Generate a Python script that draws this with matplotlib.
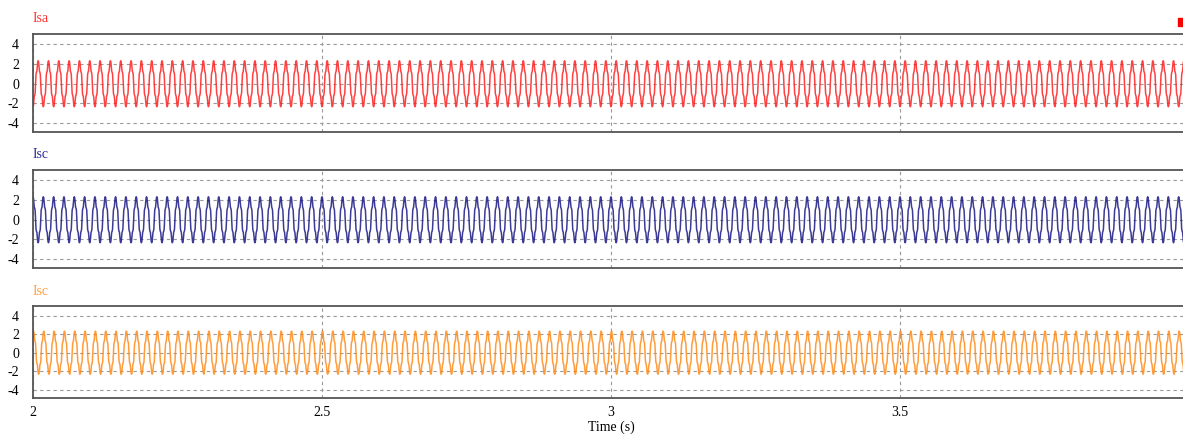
import matplotlib.pyplot as plt
import numpy as np

plt.rcParams['font.family'] = ['Liberation Serif', 'DejaVu Serif']
plt.rcParams['axes.unicode_minus'] = False

# phase currents, 2 s .. 4 s window
t_start, t_end = 2.0, 4.0
freq = 56.0                      # apparent fundamental (Hz)
amp = [2.2, 2.2, 2.2]            # fundamental peak (A)
phase0 = [-np.pi / 2, np.pi / 2, np.pi / 2 - 0.3]   # phase at t = 2 s
h5 = [0.12, 0.12, 0.12]          # 5th harmonic share
h7 = [0.06, 0.06, 0.06]          # 7th harmonic share
names = ['Isa', 'Isc', 'Isc']
line_colors = ['#ff2020', '#1a1a85', '#ff8c1a']
title_colors = ['#ff3333', '#2b2b91', '#ffa040']

yticks = [-4, -2, 0, 2, 4]
xticks = [2, 2.5, 3, 3.5, 4]
xticklabels = ['2', '2.5', '3', '3.5', '4']

t = np.arange(t_start, t_end, 1.0 / (freq * 24))

W, H = 1183, 436
fig = plt.figure(figsize=(W / 100, H / 100), dpi=100)

# panel boxes in pixels: (top, bottom)
boxes = [(34, 132), (170, 268), (306, 398)]
title_y = [18, 155, 291]
x0, x4 = 33, 1189

for i in range(3):
    top, bot = boxes[i]
    ax = fig.add_axes([x0 / W, 1 - bot / H, (x4 - x0) / W, (bot - top) / H])
    th = 2 * np.pi * freq * (t - t_start) + phase0[i]
    y = amp[i] * (np.sin(th) + h5[i] * np.sin(5 * th) + h7[i] * np.sin(7 * th))
    ax.plot(t, y, color=line_colors[i], lw=1.1, alpha=0.85)

    ax.set_xlim(t_start, t_end)
    ax.set_ylim(-4.9, 5.05)
    ax.set_yticks(yticks)
    ax.set_yticklabels([str(v) for v in yticks], fontsize=10)
    ax.set_xticks(xticks)
    if i == 2:
        ax.set_xticklabels(xticklabels, fontsize=10)
        ax.set_xlabel('Time (s)', fontsize=10, labelpad=1)
    else:
        ax.set_xticklabels([])
    ax.tick_params(axis='y', length=0, pad=10)
    ax.tick_params(axis='x', length=0, pad=6)
    ax.grid(True, ls=(0, (3, 3)), color='#999999', lw=0.8)
    for s in ax.spines.values():
        s.set_color('#555555')
        s.set_linewidth(1.3)

    fig.text(x0 / W, 1 - title_y[i] / H, names[i], color=title_colors[i],
             fontsize=10, va='center', ha='left')

# small marker at top right
fig.patches.append(plt.Rectangle((1178 / W, 1 - 26 / H), 6 / W, 8 / H,
                                 transform=fig.transFigure, color='#ff0000'))

plt.savefig('out.png', dpi=100)
